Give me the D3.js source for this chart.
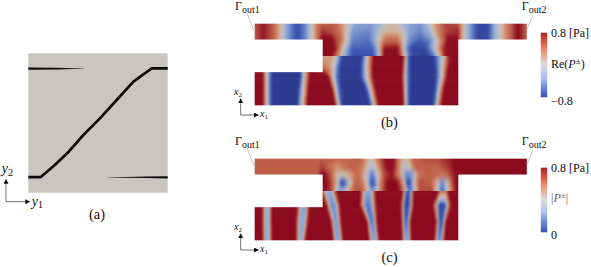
<!DOCTYPE html>
<html><head><meta charset="utf-8">
<style>html,body{margin:0;background:#fff}svg{display:block}text{font-family:"Liberation Serif",serif;fill:#111}</style>
<script src="https://cdn.jsdelivr.net/npm/d3@7"></script></head><body>
<svg id="c" width="591" height="267"></svg>
<script>
// ---- panel (a) ----
const curveY1 = [0,.09,.19,.29,.395,.514,.634,.754,.885,1];
const curveY2 = [.112,.112,.199,.294,.414,.533,.665,.797,.892,.892];
const taperTop = [[0,.89,2.2],[.2,.89,1.6],[.32,.89,.7],[.4,.89,.1]];
const taperBottom = [[.57,.11,.1],[.7,.11,.9],[.85,.11,1.5],[1,.11,2.2]];
// ---- colour map: field value -> colour ----
const fieldVals = [-1.1,-.8,-.5,-.2,0,.2,.5,.75,1,1.1];
const fieldCols = ["#2c3a8f","#3b55b0","#7f9ad0","#aebad4","#c4c2be","#d6b09a","#cf7a5c","#bc5e47","#8f0c20","#8b0a1e"];
const barStops = [0,.15,.3,.5,.7,.85,1];
const barCols = ["#b2202c","#d9593f","#ec9a7c","#dcdcdc","#a9c2ee","#6a87d8","#3a4fbb"];
// ---- panel (b) field rows [x, value] ----
const bBandLeft = [[254.5,.75],[263,.98],[273,.75],[278,.35],[283,-.1],[288,-.5],[297,-.88],[305,-.6],[312,0],[317,.55]];
const bBandRight = [[463,.1],[470,-.5],[480,-1],[488,-.9],[495,-.3],[500,0],[507,.5],[517,1.05],[522,.9],[527,.7]];
const bTop24 = [[322,.75],[335,.75],[342,.35],[348,0],[356,-.45],[372,-.45],[380,-.25],[385,-.1],[389,.1],[395,.1],[400,-.1],[405,-.25],[410,-.4],[420,-.55],[428,-.2],[431,0],[435,.35],[445,.85],[458,.8]];
const bTop32 = [[322,.9],[332,.8],[340,.6],[347,0],[352,-.5],[370,-.6],[376,-.3],[380,0],[386,.2],[398,.2],[405,-.1],[407,-.3],[410,-.45],[420,-.6],[430,-.3],[433,0],[436,.3],[445,.8],[458,.95]];
const bTop40 = [[322,1.1],[330,1.1],[340,.7],[347,0],[352,-.6],[368,-.7],[374,-.4],[378,0],[386,.65],[397,.65],[404,0],[407,-.3],[410,-.6],[420,-.75],[430,-.6],[437,0],[442,.6],[449,1.1],[458,1]];
const bTop48 = [[322,1.1],[335,1.1],[340,.5],[345,-.2],[352,-.75],[372,-.75],[378,-.3],[380,.3],[384,.95],[398,1],[402,.4],[404,-.1],[406,-.5],[412,-.95],[425,-.9],[432,-.4],[438,.3],[443,.9],[458,1.2]];
const bTop55 = [[322,1.2],[330,1.2],[338,.5],[345,-.4],[352,-.85],[373,-.85],[378,-.4],[381,.5],[384,1.1],[396,1.2],[400,.9],[404,.1],[410,-.8],[416,-1],[425,-1.1],[434,-.6],[440,.3],[445,1],[458,1.2]];
const bLeftChan77 = [[254.5,1.1],[262.7,1.1],[265,.4],[267,0],[270,-.7],[273,-1.1],[300,-1.1],[301.7,-.6],[304,0],[306.7,.5],[310,1.1]];
const bLow57 = [[322,.35],[332,.3],[336,0],[339,-.5],[343,-1.05],[361,-1.1],[364,-.6],[367,0],[370,.5],[374,1.1],[403,1.15],[405,.5],[408,-.7],[411,-1.1],[433,-1.1],[440,-.3],[445,.2],[448,.9],[452,1.1],[459,1.1]];
const bLow66 = [[322,.6],[330,.3],[334,0],[337,-.5],[341,-1.05],[360,-1.1],[363,-.6],[366.5,0],[369.5,.5],[373,1.1],[402.5,1.1],[405,.2],[407,-.5],[411,-1.1],[434,-1.1],[438,-.6],[442,0],[445,.5],[449,1.1],[459,1.1]];
const bLow77 = [[328,1.1],[331,.5],[333,0],[337,-.7],[342,-1.1],[360,-1.1],[363,-.6],[367,0],[370,.5],[373,1.1],[402,1.1],[405,0],[408,-.7],[412,-1.1],[435,-1.1],[438,-.6],[442,0],[444,.5],[447,1.1],[459,1.1]];
const bLow90 = [[254.5,1.1],[262.8,1.1],[265,.4],[267,0],[270,-.7],[273,-1.1],[298,-1.1],[300,-.6],[303,0],[306,.5],[308.5,1.1],[332,1.1],[334,.5],[336,0],[339,-.7],[343,-1.1],[365,-1.1],[368,-.6],[370,0],[373,.5],[376,1.1],[402.5,1.1],[405.5,0],[408,-.7],[411,-1.1],[433.5,-1.1],[436.5,-.6],[439,0],[441,.5],[444,1.1],[459,1.1]];
const bLow105 = [[254.5,1.1],[263,1.1],[265,.4],[267.3,0],[270,-.7],[273.3,-1.1],[296.7,-1.1],[299,-.6],[301.7,0],[305,.5],[307,1.1],[335,1.1],[337,.5],[338,0],[341,-.7],[343,-1.1],[368,-1.1],[372,-.6],[373,0],[376,.5],[379,1.1],[403,1.1],[406,0],[408,-.7],[411,-1.1],[432,-1.1],[435,-.6],[437,0],[439,.5],[442,1.1],[459,1.1]];
// ---- panel (c) field rows ----
const cBandLeft = [[254.5,.75],[318,.75]];
const cBandRight = [[460,1.1],[527,1.1]];
const cTop24 = [[322,.75],[340,.7],[360,.75],[368,.2],[372,0],[377,.5],[385,1.05],[393,1.1],[398,.6],[403,.2],[408,.1],[413,.7],[423,.8],[437,.8],[453,1],[458,1.1]];
const cTop32 = [[322,.85],[330,.65],[337,.35],[343,.55],[353,.75],[363,.5],[368,0],[373,-.2],[378,.3],[383,.85],[390,1.1],[395,.9],[400,.3],[405,-.2],[410,.1],[415,.7],[427,.75],[435,.7],[447,.85],[457,1.1]];
const cTop40 = [[322,1.1],[330,.8],[340,-.1],[350,.3],[358,.7],[365,.1],[372,-.7],[378,0],[384,.8],[392,1],[400,.4],[406,-.6],[412,-.5],[418,.5],[428,.75],[436,.65],[443,.5],[450,.8],[458,1.1]];
const cTop48 = [[322,1.1],[330,.9],[336,.3],[340,-.6],[342,-1],[345,-.7],[350,0],[355,.7],[362,.6],[367,0],[372,-1],[376,-.5],[380,.5],[388,1.1],[397,1.1],[403,.4],[407,-.9],[410,-.9],[414,.1],[420,.8],[430,.75],[436,.3],[440,-.4],[443,-.6],[447,0],[452,.8],[458,1.1]];
const cTop55 = [[322,1.1],[332,.8],[336,0],[340,-.4],[345,-.3],[350,.4],[356,.8],[362,.75],[367,.2],[372,-.6],[376,-.2],[382,.7],[388,1.1],[398,1.15],[404,.5],[408,-.6],[412,-.6],[416,.2],[420,.8],[432,.8],[437,0],[442,-.8],[446,-.3],[451,.5],[456,1.1]];
// lower channel bands [centre, half width, depth]
const cLow57 = [[267,5,-.4],[303.5,6.5,-.5],[329,8,-.4],[368,8,-.5],[408,6,-.9],[443,5,.6]];
const cLow70 = [[267,5,-.4],[303.5,6.5,-.5],[333,7.5,-.6],[368,9,-.7],[407,7,-1],[442,10,-1]];
const cLow87 = [[267,5,-.4],[302,6.5,-.45],[336,5.5,-.55],[372,5.5,-.7],[406,5,-.8],[441,5.5,-.9]];
const cLow105 = [[267.3,5,-.4],[300.7,5,-.4],[338,5.5,-.5],[374,5.5,-.5],[406.7,5,-.5],[439.3,5.5,-.6]];
const topRowY = [24,32,40,48,55];
const lowRowYB = [57,66,77,90,105];
const lowRowYC = [57,70,87,105];
// channel outlines in the field's own coordinates
const outlineTop = [[254.5,23.5],[527,23.5],[527,39.7],[458.5,39.7],[458.5,56],[322.5,56],[322.5,39.7],[254.5,39.7]];
const outlineLow = [[322.5,56],[458.5,56],[458.5,105.5],[254.5,105.5],[254.5,72],[322.5,72]];
const outlineAll = [[254.5,23.5],[527,23.5],[527,39.7],[458.5,39.7],[458.5,105.5],[254.5,105.5],[254.5,72],[322.5,72],[322.5,39.7],[254.5,39.7]];

const svg = d3.select("#c"), defs = svg.append("defs");
const col = d3.scaleLinear().domain(fieldVals).range(fieldCols).clamp(true).interpolate(d3.interpolateRgb);
const xF = d3.scaleLinear().domain([254.5,527]).range([254.5,527]);
const yB = d3.scaleLinear().domain([23.5,105.5]).range([23.5,105.5]);
const yC = d3.scaleLinear().domain([23.5,105.5]).range([158.5,240.5]);

function blur(id,dev){
  defs.append("filter").attr("id",id).attr("filterUnits","userSpaceOnUse")
    .attr("x",0).attr("y",0).attr("width",591).attr("height",267)
    .attr("color-interpolation-filters","sRGB")
    .append("feGaussianBlur").attr("stdDeviation",dev);
}
blur("softLow","0.9 1.2"); blur("softTop","0.9 1.6"); blur("softC","1.1 2.8");
defs.append("marker").attr("id","arr").attr("viewBox","0 0 6 6").attr("refX",5).attr("refY",3)
  .attr("markerWidth",5).attr("markerHeight",5).attr("markerUnits","userSpaceOnUse").attr("orient","auto")
  .append("path").attr("d","M0,0L6,3L0,6Z").attr("fill","#111");

let uid = 0;
function bandsToStops(bands){
  const s=[[254.5,1.1]];
  bands.forEach(([c,h,v])=>{
    s.push([c-h,1.1],[c-.65*h,.5],[c-.35*h,v*.75],[c,v],[c+.35*h,v*.75],[c+.65*h,.5],[c+h,1.1]);
  });
  s.push([459,1.1]);
  return s;
}
// shade between neighbouring rows whose stops correspond, as a vertex-shaded plot does
function shade(rows,ys,n){
  const R=[],Y=[];
  rows.forEach((r,i)=>{
    R.push(r);Y.push(ys[i]);
    const q=rows[i+1];
    if(q&&q.length===r.length) for(let k=1;k<n;k++){
      const f=k/n;
      R.push(r.map((s,j)=>[s[0]+(q[j][0]-s[0])*f,s[1]+(q[j][1]-s[1])*f]));
      Y.push(ys[i]+(ys[i+1]-ys[i])*f);
    }
  });
  return [R,Y];
}
function drawField(rows0, ys0, outline, y, filt){
  const [rows,ys]=shade(rows0,ys0,6);
  const id="clip"+(uid++);
  defs.append("clipPath").attr("id",id).append("polygon")
    .attr("points",outline.map(p=>xF(p[0])+","+y(p[1])).join(" "));
  const g=svg.append("g").attr("clip-path",`url(#${id})`).append("g").attr("filter",`url(#${filt})`);
  rows.forEach((stops,i)=>{
    const gid="g"+(uid++), x0=stops[0][0], x1=stops[stops.length-1][0];
    const lg=defs.append("linearGradient").attr("id",gid).attr("gradientUnits","userSpaceOnUse")
      .attr("x1",xF(x0)).attr("x2",xF(x1)).attr("y1",0).attr("y2",0);
    stops.forEach((s,k)=>{
      const steps = k? 3:1;
      for(let t=1;t<=steps;t++){
        const a=k?stops[k-1]:s, f=t/steps;
        const xx=a[0]+(s[0]-a[0])*f, vv=a[1]+(s[1]-a[1])*f;
        lg.append("stop").attr("offset",(xx-x0)/(x1-x0)).attr("stop-color",col(vv));
      }
    });
    const top=i?(ys[i-1]+ys[i])/2:ys[0]-20, bot=i<ys.length-1?(ys[i]+ys[i+1])/2:ys[i]+20;
    g.append("rect").attr("x",xF(x0)-30).attr("width",xF(x1)-xF(x0)+60)
      .attr("y",y(top)).attr("height",y(bot)-y(top)+.6).attr("fill",`url(#${gid})`);
  });
}
const withBand=(l,m,r)=>l.concat(m,r);
drawField([bTop24,bTop32,bTop40,bTop48,bTop55].map(m=>withBand(bBandLeft,m,bBandRight)),topRowY,outlineTop,yB,"softTop");
const bLowRows=[bLeftChan77.concat(bLow57),bLeftChan77.concat(bLow66),bLeftChan77.concat(bLow77),bLow90,bLow105];
drawField(bLowRows,lowRowYB,outlineLow,yB,"softLow");
drawField([cTop24,cTop32,cTop40,cTop48,cTop55].map(m=>withBand(cBandLeft,m,cBandRight)),topRowY,outlineTop,yC,"softC");
drawField([cLow57,cLow70,cLow87,cLow105].map(bandsToStops),lowRowYC,outlineLow,yC,"softLow");
[yB,yC].forEach(y=>svg.append("polygon").attr("points",outlineAll.map(p=>xF(p[0])+","+y(p[1])).join(" "))
  .attr("fill","none").attr("stroke","#fff").attr("stroke-opacity",.35).attr("stroke-width",1));

// colour bars
const lgB=defs.append("linearGradient").attr("id","bar").attr("x1",0).attr("x2",0).attr("y1",0).attr("y2",1);
barStops.forEach((o,i)=>lgB.append("stop").attr("offset",o).attr("stop-color",barCols[i]));
const barH=d3.scaleLinear().domain([0,1]).range([0,64.6]);
[32.7,167.7].forEach(t=>svg.append("rect").attr("x",540.8).attr("y",t).attr("width",6.4).attr("height",barH(1)).attr("fill","url(#bar)"));

// panel (a)
const xA=d3.scaleLinear().domain([0,1]).range([28.3,167.7]);
const yA=d3.scaleLinear().domain([0,1]).range([192.7,53.3]);
svg.append("rect").attr("x",xA(0)).attr("y",yA(1)).attr("width",xA(1)-xA(0)).attr("height",yA(0)-yA(1)).attr("fill","#c9c6bf");
svg.append("path").attr("d",d3.line().x(d=>xA(d[0])).y(d=>yA(d[1])).curve(d3.curveLinear)(curveY1.map((v,i)=>[v,curveY2[i]])))
  .attr("fill","none").attr("stroke","#0a0a0a").attr("stroke-width",2.7).attr("stroke-linejoin","round");
[taperTop,taperBottom].forEach(t=>svg.append("path").attr("fill","#0a0a0a")
  .attr("d",d3.area().x(d=>xA(d[0])).y0(d=>yA(d[1])-d[2]/2).y1(d=>yA(d[1])+d[2]/2)(t)));

// axis arrows
function arrows(ox,oy,lenX,lenY,w){
  svg.append("line").attr("x1",ox).attr("y1",oy).attr("x2",ox+lenX).attr("y2",oy).attr("stroke","#333").attr("stroke-width",w).attr("marker-end","url(#arr)");
  svg.append("line").attr("x1",ox).attr("y1",oy).attr("x2",ox).attr("y2",oy-lenY).attr("stroke","#333").attr("stroke-width",w).attr("marker-end","url(#arr)");
}
arrows(6,201.7,23.5,22,.7);
arrows(240.7,115,17.5,16,.7);
arrows(240.7,250,17.5,16,.7);

// text helper: parts are [text, italic, shift, size]
function label(x,y,size,parts){
  const t=svg.append("text").attr("x",x).attr("y",y).attr("font-size",size);
  let last=0;
  parts.forEach(([s,it,dy,sz])=>{
    const sp=t.append("tspan").text(s).attr("dy",(dy||0)-last);
    last=dy||0;
    if(it) sp.attr("font-style","italic");
    if(sz) sp.attr("font-size",sz);
  });
  return t;
}
label(1.8,173,14,[["y",1],["2",0,2.5,10]]);
label(31.7,205.7,14,[["y",1],["1",0,2.5,10]]);
label(97,219,14.5,[["(a)"]]).attr("text-anchor","middle");
[[0,"(b)",127],[135,"(c)",262]].forEach(([d,s,b])=>{
  label(234,95+d,10,[["x",1],["2",0,1.8,7]]);
  label(260,117+d,10,[["x",1],["1",0,1.8,7]]);
  label(389.5,b,14.5,[[s]]).attr("text-anchor","middle");
  label(235,10+d,12,[["Γ"],["out1",0,2.5,10]]);
  label(521.7,10+d,12,[["Γ"],["out2",0,2.5,10]]);
  label(551,37.3+d,12,[["0.8 [Pa]"]]);
});
[0,135].forEach(d=>{
  svg.append("line").attr("x1",247).attr("y1",13+d).attr("x2",254).attr("y2",31+d).attr("stroke","#aaa").attr("stroke-width",.7);
  svg.append("line").attr("x1",533).attr("y1",15+d).attr("x2",526.7).attr("y2",30+d).attr("stroke","#aaa").attr("stroke-width",.7);
});
label(551,67.7,12,[["Re("],["P",1],["±",0,-4,9],[")"]]);
label(551,105,12,[["−0.8"]]);
label(551,201.7,12,[["|"],["P",1],["±",0,-4,9],["|"]]).selectAll("tspan").attr("fill","#666");
label(551,239,12,[["0"]]);
</script></body></html>
